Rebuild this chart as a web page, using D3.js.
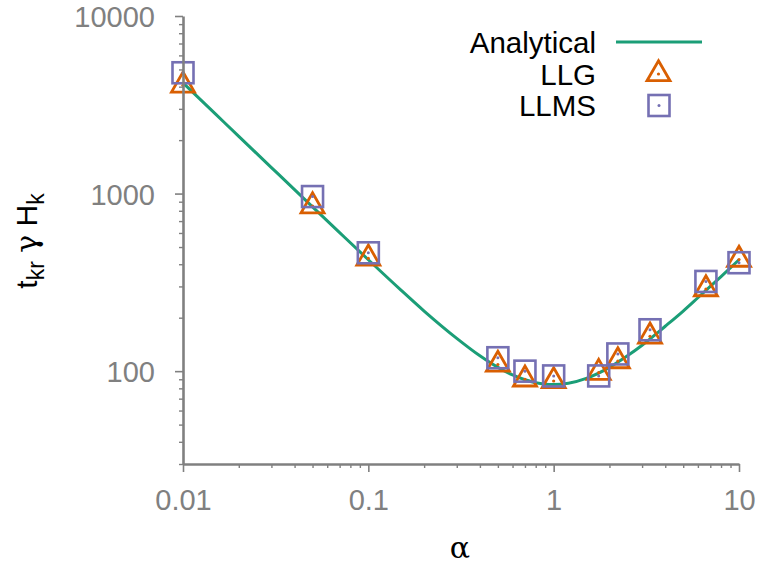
<!DOCTYPE html>
<html>
<head>
<meta charset="utf-8">
<script src="https://cdn.jsdelivr.net/npm/d3@7"></script>
<style>
  body { margin: 0; background: #ffffff; }
  svg { display: block; font-family: "Liberation Sans", Arial, Helvetica, sans-serif; }
</style>
</head>
<body>
<svg id="chart" width="758" height="569"></svg>
<script>
// Analytical switching-time curve, t_kr·γ·H_k versus damping α
const analyticAlpha = [0.01, 0.015, 0.02, 0.03, 0.05, 0.07, 0.1, 0.15, 0.2, 0.3, 0.4, 0.5, 0.6, 0.7, 0.8, 0.9, 1, 1.2, 1.5, 2, 2.5, 3, 4, 5, 6, 7, 8, 10];
const analyticValue = [4200, 2800, 2100, 1401, 842, 603, 424, 286, 218, 153, 122, 105, 95.2, 89.4, 86.1, 84.5, 84, 85.4, 91, 105, 122, 140, 179, 218, 259, 300, 341, 424];

// Simulated damping values and results
const sampleAlpha = [0.01, 0.05, 0.1, 0.5, 0.7, 1, 1.75, 2.22, 3.31, 6.63, 10];
const llgValue  = [4070, 850, 432, 109, 90, 88, 98, 114, 157, 290, 425];
const llmsValue = [4790, 962, 464, 119, 100, 94, 94, 125, 171, 320, 408];

// Axis ticks
const xTickValues = [0.01, 0.1, 1, 10];
const xTickLabels = ["0.01", "0.1", "1", "10"];
const yTickValues = [100, 1000, 10000];
const yTickLabels = ["100", "1000", "10000"];

const legendLabels = ["Analytical", "LLG", "LLMS"];
const colors = { analytical: "#1b9e77", llg: "#d95f02", llms: "#7570b3" };
const axisColor = "#808080";
const greekFont = '"DejaVu Serif", "Liberation Serif", serif';

const svg = d3.select("#chart");

const x = d3.scaleLog().domain([0.01, 10]).range([183, 739]);
const y = d3.scaleLog().domain([30, 10000]).range([464, 16]);

// minor ticks: 2..9 within each decade
function minorTicks(lo, hi) {
  const out = [];
  for (let p = Math.floor(Math.log10(lo)); p <= Math.ceil(Math.log10(hi)); p++) {
    for (let m = 2; m <= 9; m++) {
      const v = m * Math.pow(10, p);
      if (v >= lo * 0.999 && v <= hi * 1.001) out.push(v);
    }
  }
  return out;
}
const xMinor = minorTicks(0.01, 10);
const yMinor = minorTicks(30, 10000);

// Analytical curve
const curveData = analyticAlpha.map((a, i) => ({ a, v: analyticValue[i] }));
const line = d3.line().x(d => x(d.a)).y(d => y(d.v)).curve(d3.curveMonotoneX);
svg.append("path")
  .datum(curveData)
  .attr("d", line)
  .attr("fill", "none")
  .attr("stroke", colors.analytical)
  .attr("stroke-width", 3);

// marker shapes
function triangle(g, cx, cy, color) {
  const w = 11.5, up = 13.3, dn = 6.7;
  g.append("path")
    .attr("d", `M${cx},${cy - up} L${cx + w},${cy + dn} L${cx - w},${cy + dn} Z`)
    .attr("fill", "none")
    .attr("stroke", color)
    .attr("stroke-width", 2.8)
    .attr("stroke-linejoin", "miter");
  g.append("circle").attr("cx", cx).attr("cy", cy).attr("r", 1.6).attr("fill", color);
}
function square(g, cx, cy, color) {
  const h = 10.5;
  g.append("rect")
    .attr("x", cx - h).attr("y", cy - h)
    .attr("width", 2 * h).attr("height", 2 * h)
    .attr("fill", "none")
    .attr("stroke", color)
    .attr("stroke-width", 2.6);
  g.append("circle").attr("cx", cx).attr("cy", cy).attr("r", 1.5).attr("fill", color);
}

const llgG = svg.append("g");
sampleAlpha.forEach((a, i) => triangle(llgG, x(a), y(llgValue[i]), colors.llg));
const llmsG = svg.append("g");
sampleAlpha.forEach((a, i) => square(llmsG, x(a), y(llmsValue[i]), colors.llms));

// Axes
function styleAxis(g) {
  g.select(".domain").attr("stroke", axisColor).attr("stroke-width", 2.6);
  g.selectAll(".tick line").attr("stroke", axisColor).attr("stroke-width", 1.6);
  g.selectAll(".tick text")
    .attr("fill", axisColor)
    .style("font-family", '"Liberation Sans", Arial, sans-serif')
    .style("font-size", "29px");
}

const xAxisY = y(30);
svg.append("g")
  .attr("transform", `translate(0,${xAxisY})`)
  .call(d3.axisBottom(x).tickValues(xMinor).tickSize(4).tickSizeOuter(0).tickFormat(""))
  .call(g => { g.select(".domain").remove(); g.selectAll(".tick line").attr("stroke", axisColor).attr("stroke-width", 1.4); });
svg.append("g")
  .attr("transform", `translate(0,${xAxisY})`)
  .call(d3.axisBottom(x).tickValues(xTickValues).tickSize(8).tickSizeOuter(0).tickPadding(38)
    .tickFormat((d, i) => xTickLabels[i]))
  .call(styleAxis)
  .call(g => g.selectAll(".tick text").attr("dy", "0"));

const yAxisX = x(0.01);
svg.append("g")
  .attr("transform", `translate(${yAxisX},0)`)
  .call(d3.axisLeft(y).tickValues(yMinor).tickSize(4).tickSizeOuter(0).tickFormat(""))
  .call(g => { g.select(".domain").remove(); g.selectAll(".tick line").attr("stroke", axisColor).attr("stroke-width", 1.4); });
svg.append("g")
  .attr("transform", `translate(${yAxisX},0)`)
  .call(d3.axisLeft(y).tickValues(yTickValues).tickSize(8).tickSizeOuter(0).tickPadding(20)
    .tickFormat((d, i) => yTickLabels[i]))
  .call(styleAxis)
  .call(g => g.selectAll(".tick text").attr("dy", "0.36em"));

// Axis titles
svg.append("text")
  .attr("x", 460).attr("y", 558)
  .attr("text-anchor", "middle")
  .attr("fill", "#000")
  .style("font-family", greekFont)
  .style("font-size", "30px")
  .text("α");

const yTitle = svg.append("text")
  .attr("transform", "translate(37,241) rotate(-90)")
  .attr("text-anchor", "middle")
  .attr("fill", "#000")
  .style("font-size", "30px");
yTitle.append("tspan").text("t");
yTitle.append("tspan").attr("dy", 7).style("font-size", "23px").text("kr");
yTitle.append("tspan").attr("dy", -7).text(" ");
yTitle.append("tspan").style("font-family", greekFont).text("γ");
yTitle.append("tspan").text(" H");
yTitle.append("tspan").attr("dy", 7).style("font-size", "23px").text("k");

// Legend
const legend = svg.append("g");
const legendBase = [53, 85, 116];
legendLabels.forEach((t, i) => {
  legend.append("text")
    .attr("x", 596).attr("y", legendBase[i])
    .attr("text-anchor", "end")
    .attr("fill", "#000")
    .style("font-size", "29.5px")
    .text(t);
});
legend.append("line")
  .attr("x1", 616).attr("x2", 702)
  .attr("y1", 42).attr("y2", 42)
  .attr("stroke", colors.analytical)
  .attr("stroke-width", 3);
triangle(legend, 658.5, 74, colors.llg);
square(legend, 659, 105.5, colors.llms);
</script>
</body>
</html>
